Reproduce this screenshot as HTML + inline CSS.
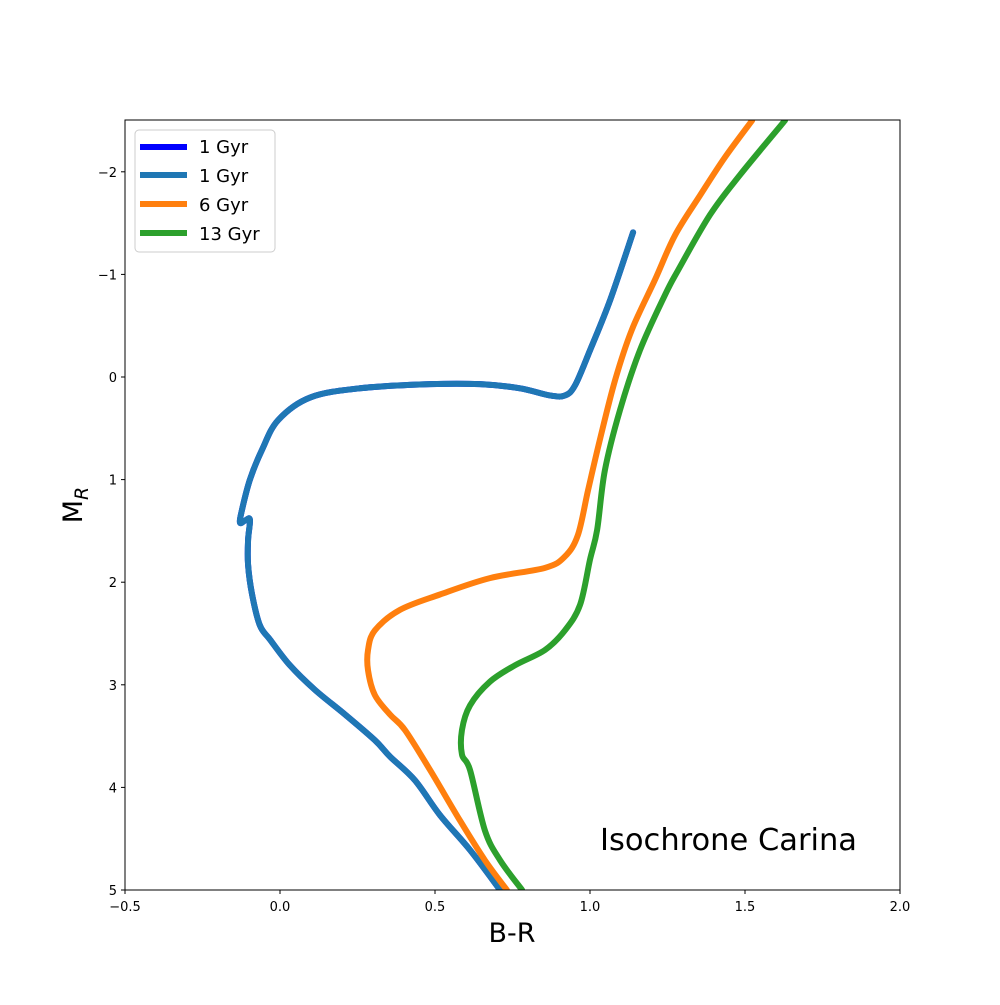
<!DOCTYPE html>
<html><head><meta charset="utf-8"><style>
body{margin:0;background:#fff}
svg text{font-family:"DejaVu Sans","Liberation Sans",sans-serif;fill:#000}
</style></head><body>
<svg id="chart" width="1000" height="1000" xmlns="http://www.w3.org/2000/svg">
<defs><clipPath id="clip"><rect x="125" y="120" width="775" height="770"/></clipPath></defs>
<g id="plot" clip-path="url(#clip)"></g>
<rect x="125" y="120" width="775" height="770" fill="none" stroke="#000" stroke-width="1"/>
<g id="axes"></g>
<text x="512" y="942" font-size="27" text-anchor="middle">B-R</text>
<text transform="translate(82,505) rotate(-90)" font-size="27" text-anchor="middle">M<tspan font-size="19" font-style="italic" dy="6">R</tspan></text>
<text x="600" y="850" font-size="30" textLength="257" lengthAdjust="spacingAndGlyphs">Isochrone Carina</text>
<g>
<rect x="135" y="130" width="140" height="122" rx="4" fill="#fff" fill-opacity="0.8" stroke="#ccc"/>
<line x1="140" y1="147" x2="187" y2="147" stroke="#0000ff" stroke-width="6"/>
<text x="199" y="153" font-size="18">1 Gyr</text>
<line x1="140" y1="175" x2="187" y2="175" stroke="#1f77b4" stroke-width="6"/>
<text x="199" y="182" font-size="18">1 Gyr</text>
<line x1="140" y1="204" x2="187" y2="204" stroke="#ff7f0e" stroke-width="6"/>
<text x="199" y="211" font-size="18">6 Gyr</text>
<line x1="140" y1="233" x2="187" y2="233" stroke="#2ca02c" stroke-width="6"/>
<text x="199" y="240" font-size="18">13 Gyr</text>
</g>
</svg>
<script>
const xTicks=[-0.5,0,0.5,1,1.5,2];
const xTickLabels=["\u22120.5","0.0","0.5","1.0","1.5","2.0"];
const yTicks=[-2,-1,0,1,2,3,4,5];
const yTickLabels=["\u22122","\u22121","0","1","2","3","4","5"];
const blueX=[0.71,0.613,0.516,0.435,0.355,0.306,0.21,0.113,0.032,-0.032,-0.065,-0.09,-0.103,-0.103,-0.097,-0.113,-0.129,-0.123,-0.097,-0.058,-0.006,0.097,0.258,0.484,0.645,0.774,0.871,0.919,0.952,1.0,1.065,1.139];
const blueY=[5,4.61,4.27,3.93,3.70,3.54,3.29,3.05,2.81,2.56,2.42,2.12,1.83,1.59,1.39,1.40,1.42,1.30,1.00,0.71,0.42,0.20,0.11,0.07,0.07,0.11,0.18,0.18,0.08,-0.26,-0.75,-1.41];
const orangeX=[0.732,0.661,0.58,0.484,0.403,0.355,0.306,0.284,0.284,0.306,0.387,0.516,0.677,0.855,0.919,0.961,0.994,1.032,1.081,1.135,1.21,1.274,1.355,1.435,1.523];
const orangeY=[5,4.71,4.32,3.83,3.44,3.29,3.10,2.86,2.66,2.47,2.27,2.12,1.96,1.86,1.75,1.54,1.10,0.61,0.03,-0.46,-0.95,-1.38,-1.77,-2.14,-2.5];
const greenX=[0.781,0.71,0.661,0.613,0.587,0.587,0.613,0.677,0.758,0.855,0.919,0.968,1.0,1.023,1.048,1.097,1.161,1.242,1.284,1.387,1.484,1.629];
const greenY=[5,4.71,4.42,3.83,3.68,3.44,3.20,2.97,2.81,2.66,2.47,2.22,1.78,1.49,0.91,0.32,-0.26,-0.80,-1.04,-1.58,-1.97,-2.5];
const NS="http://www.w3.org/2000/svg";
const sx=v=>125+(v+0.5)*310;
const sy=v=>377+v*102.6;
const plot=document.getElementById('plot');
const axes=document.getElementById('axes');
function smoothPath(pts){
  let d='M'+pts[0][0]+','+pts[0][1];
  for(let i=0;i<pts.length-1;i++){
    const p0=pts[Math.max(i-1,0)],p1=pts[i],p2=pts[i+1],p3=pts[Math.min(i+2,pts.length-1)];
    const c1x=p1[0]+(p2[0]-p0[0])/6,c1y=p1[1]+(p2[1]-p0[1])/6;
    const c2x=p2[0]-(p3[0]-p1[0])/6,c2y=p2[1]-(p3[1]-p1[1])/6;
    d+=' C'+c1x+','+c1y+' '+c2x+','+c2y+' '+p2[0]+','+p2[1];
  }
  return d;
}
function series(xs,ys,color,name){
  const p=document.createElementNS(NS,'path');
  p.setAttribute('d',smoothPath(xs.map((x,i)=>[sx(x),sy(ys[i])])));
  p.setAttribute('fill','none');p.setAttribute('stroke',color);
  p.setAttribute('stroke-width','6');p.setAttribute('stroke-linejoin','round');p.setAttribute('stroke-linecap','round');
  
  
  plot.appendChild(p);
}
series(blueX,blueY,'#0000ff','line-1gyr-blue');
series(blueX,blueY,'#1f77b4','line-1gyr');
series(orangeX,orangeY,'#ff7f0e','line-6gyr');
series(greenX,greenY,'#2ca02c','line-13gyr');
xTicks.forEach((t,i)=>{
  const l=document.createElementNS(NS,'line');
  l.setAttribute('x1',sx(t));l.setAttribute('x2',sx(t));l.setAttribute('y1',890);l.setAttribute('y2',894);l.setAttribute('stroke','#000');
  
  
  axes.appendChild(l);
  const tx=document.createElementNS(NS,'text');
  tx.setAttribute('x',sx(t));tx.setAttribute('y',911);tx.setAttribute('font-size','13');tx.setAttribute('text-anchor','middle');
  tx.textContent=xTickLabels[i];
  
  
  axes.appendChild(tx);
});
yTicks.forEach((t,i)=>{
  const l=document.createElementNS(NS,'line');
  l.setAttribute('x1',121);l.setAttribute('x2',125);l.setAttribute('y1',sy(t));l.setAttribute('y2',sy(t));l.setAttribute('stroke','#000');
  
  
  axes.appendChild(l);
  const tx=document.createElementNS(NS,'text');
  tx.setAttribute('x',117);tx.setAttribute('y',sy(t)+5);tx.setAttribute('font-size','13');tx.setAttribute('text-anchor','end');
  tx.textContent=yTickLabels[i];
  
  
  axes.appendChild(tx);
});
</script>
</body></html>
